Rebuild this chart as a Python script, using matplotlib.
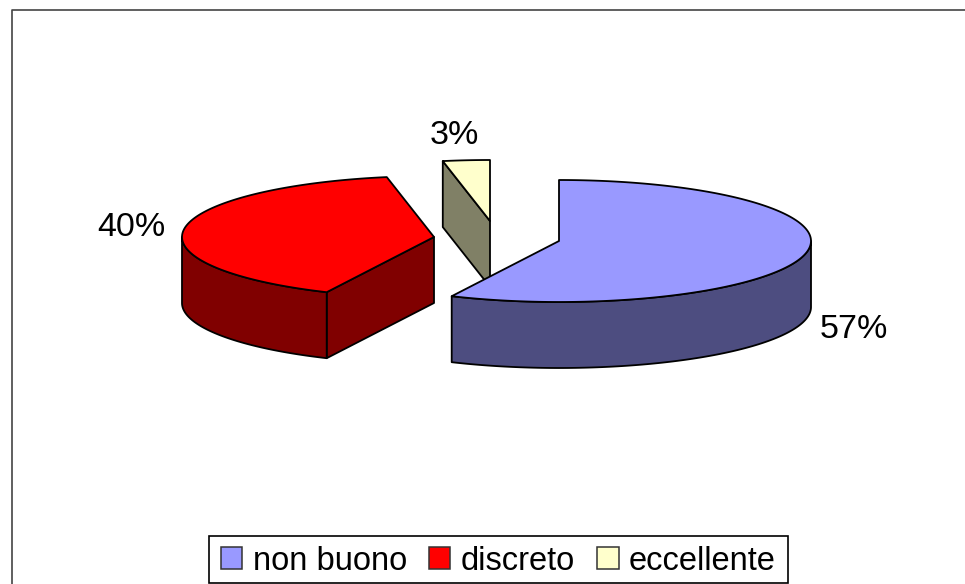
import numpy as np
import matplotlib
matplotlib.use("Agg")
import matplotlib.pyplot as plt
from matplotlib.patches import Patch, Polygon, Rectangle

plt.rcParams['font.family'] = ['Liberation Sans', 'DejaVu Sans']

labels = ["non buono", "discreto", "eccellente"]
values = [57, 40, 3]

top_colors = ["#9999FF", "#FF0000", "#FFFFCC"]
side_colors = ["#4D4D80", "#800000", "#808066"]
centers = [(559, 241), (434, 237), (490, 221)]
label_pos = [(854, 330), (131, 228), (454, 136)]

RX = 252
RY = 61
DEPTH = 66
LW = 1.3


def rim(c, a):
    # angle is clockwise from 12 o'clock, radians
    return np.column_stack([c[0] + RX * np.sin(a), c[1] - RY * np.cos(a)])


def face(ax, pts, color):
    ax.add_patch(Polygon(pts, closed=True, facecolor=color, edgecolor="black",
                         linewidth=LW, joinstyle="round"))


def drop(pts):
    return pts + np.array([0, DEPTH])


def wedge(ax, c, a0, a1, top, side):
    cen = np.array([c], dtype=float)
    # cut faces, only those turned to the viewer
    if np.sin(a0) < -1e-6:
        p = rim(c, np.array([a0]))
        face(ax, np.vstack([cen, p, drop(p), drop(cen)]), side)
    if np.sin(a1) > 1e-6:
        p = rim(c, np.array([a1]))
        face(ax, np.vstack([cen, p, drop(p), drop(cen)]), side)
    # outer wall, front half of the ellipse
    lo = max(a0, np.pi / 2)
    hi = min(a1, 3 * np.pi / 2)
    if hi > lo:
        arc = rim(c, np.linspace(lo, hi, 120))
        face(ax, np.vstack([arc, drop(arc)[::-1]]), side)
    arc = rim(c, np.linspace(a0, a1, 200))
    face(ax, np.vstack([cen, arc]), top)


fig = plt.figure(figsize=(9.65, 5.84), dpi=100)
ax = fig.add_axes([0, 0, 1, 1])
ax.set_xlim(0, 965)
ax.set_ylim(584, 0)
ax.axis("off")

# chart area border, only top and left are in the picture
ax.plot([12, 12, 965], [584, 10, 10], color="#444444", linewidth=1.2)

edges = np.cumsum([0] + values) / sum(values) * 2 * np.pi

# back slices first, the big one sits on top of the small one
for i in [2, 1, 0]:
    wedge(ax, centers[i], edges[i], edges[i + 1], top_colors[i], side_colors[i])

for i in range(len(values)):
    ax.text(label_pos[i][0], label_pos[i][1], str(values[i]) + "%", fontsize=24.5,
            ha="center", va="center", color="black")

# legend box drawn apart, the text is too tall for the real frame to fit this height
ax.add_patch(Rectangle((209, 536), 579, 47, facecolor="white", edgecolor="black", linewidth=1.2))
handles = [Patch(facecolor=top_colors[i], edgecolor="#333333", linewidth=1.1)
           for i in range(len(labels))]
ax.legend(handles, labels, ncol=3, loc="center", bbox_to_anchor=(498.5, 561),
          bbox_transform=ax.transData, fontsize=23.5, frameon=False,
          handlelength=0.65, handleheight=0.65,
          handletextpad=0.32, columnspacing=0.68, borderpad=0, borderaxespad=0)

plt.savefig("out.png", dpi=100)
plt.close()
